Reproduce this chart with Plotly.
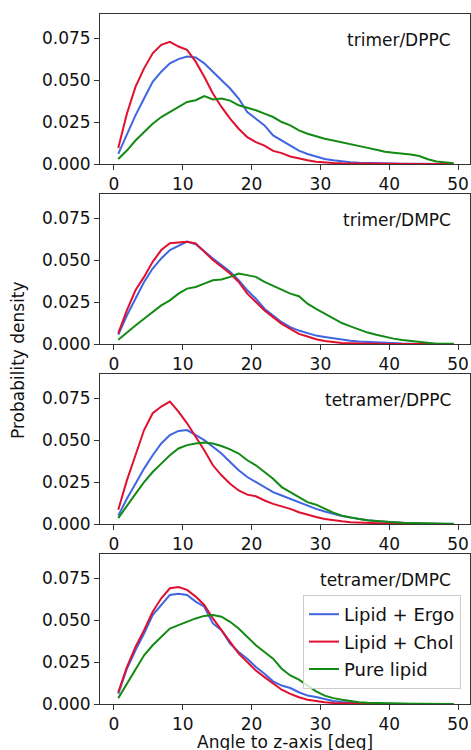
import plotly.graph_objects as go
from plotly.subplots import make_subplots

# Bin centres (deg)
angle = [0.625 + 1.25 * k for k in range(40)]

panel_labels = ["trimer/DPPC", "trimer/DMPC", "tetramer/DPPC", "tetramer/DMPC"]
series_names = ["Lipid + Ergo", "Lipid + Chol", "Pure lipid"]

# trimer/DPPC
trimer_dppc_ergo = [0.006, 0.018, 0.029, 0.039, 0.049, 0.055, 0.060, 0.0625, 0.064, 0.0635,
                    0.060, 0.055, 0.050, 0.045, 0.039, 0.031, 0.027, 0.023, 0.017, 0.014,
                    0.011, 0.008, 0.006, 0.0045, 0.003, 0.0022, 0.0015, 0.001, 0.0007, 0.0005,
                    0.0003, 0.0002, 0.0002, 0.0001, 0.0001, 0.0001, 0.0, 0.0, 0.0, 0.0]
trimer_dppc_chol = [0.0095, 0.030, 0.046, 0.057, 0.066, 0.071, 0.0728, 0.070, 0.068, 0.061,
                    0.052, 0.042, 0.034, 0.027, 0.021, 0.016, 0.013, 0.011, 0.0078, 0.0065,
                    0.0045, 0.0032, 0.0022, 0.0014, 0.0009, 0.0006, 0.0004, 0.0003, 0.0002, 0.0001,
                    0.0001, 0.0, 0.0, 0.0, 0.0, 0.0, 0.0, 0.0, 0.0, 0.0]
trimer_dppc_pure = [0.003, 0.008, 0.014, 0.019, 0.024, 0.028, 0.031, 0.034, 0.037, 0.038,
                    0.0405, 0.0385, 0.039, 0.0378, 0.035, 0.0335, 0.032, 0.030, 0.028, 0.025,
                    0.023, 0.020, 0.018, 0.0165, 0.015, 0.014, 0.0128, 0.012, 0.0106, 0.0096,
                    0.0085, 0.0073, 0.0067, 0.0063, 0.0056, 0.0048, 0.0028, 0.0015, 0.0009, 0.0005]

# trimer/DMPC
trimer_dmpc_ergo = [0.0055, 0.017, 0.027, 0.037, 0.045, 0.051, 0.056, 0.0585, 0.061, 0.0595,
                    0.055, 0.051, 0.047, 0.043, 0.038, 0.032, 0.027, 0.021, 0.017, 0.013,
                    0.010, 0.008, 0.0065, 0.005, 0.0042, 0.0034, 0.0025, 0.0019, 0.0015, 0.0012,
                    0.0008, 0.0006, 0.0005, 0.0003, 0.0002, 0.0001, 0.0001, 0.0001, 0.0, 0.0]
trimer_dmpc_chol = [0.0065, 0.020, 0.032, 0.040, 0.049, 0.056, 0.060, 0.0605, 0.061, 0.060,
                    0.055, 0.050, 0.046, 0.042, 0.037, 0.030, 0.025, 0.020, 0.016, 0.012,
                    0.009, 0.006, 0.0045, 0.0028, 0.0018, 0.001, 0.0006, 0.0004, 0.0002, 0.0001,
                    0.0001, 0.0, 0.0, 0.0, 0.0, 0.0, 0.0, 0.0, 0.0, 0.0]
trimer_dmpc_pure = [0.0025, 0.007, 0.011, 0.015, 0.019, 0.023, 0.026, 0.030, 0.033, 0.034,
                    0.036, 0.038, 0.0385, 0.040, 0.042, 0.041, 0.040, 0.037, 0.0345, 0.0325,
                    0.030, 0.0285, 0.024, 0.021, 0.018, 0.015, 0.0125, 0.0105, 0.0085, 0.0068,
                    0.0055, 0.0042, 0.0032, 0.0024, 0.0018, 0.0012, 0.0005, 0.0002, 0.0001, 0.0001]

# tetramer/DPPC
tetramer_dppc_ergo = [0.005, 0.015, 0.024, 0.033, 0.041, 0.048, 0.053, 0.0555, 0.056, 0.053,
                      0.050, 0.046, 0.042, 0.037, 0.032, 0.028, 0.025, 0.022, 0.019, 0.017,
                      0.015, 0.013, 0.011, 0.009, 0.0075, 0.006, 0.0048, 0.0038, 0.0028, 0.0022,
                      0.0016, 0.0012, 0.0008, 0.0006, 0.0004, 0.0003, 0.0002, 0.0001, 0.0001, 0.0]
tetramer_dppc_chol = [0.0085, 0.026, 0.041, 0.056, 0.066, 0.070, 0.073, 0.067, 0.060, 0.052,
                      0.044, 0.035, 0.029, 0.024, 0.020, 0.0175, 0.0165, 0.014, 0.012, 0.0105,
                      0.009, 0.007, 0.0055, 0.0042, 0.003, 0.0022, 0.0016, 0.0011, 0.0008, 0.0005,
                      0.0004, 0.0003, 0.0002, 0.0001, 0.0001, 0.0, 0.0, 0.0, 0.0, 0.0]
tetramer_dppc_pure = [0.0035, 0.011, 0.018, 0.025, 0.031, 0.036, 0.041, 0.045, 0.047, 0.048,
                      0.0485, 0.048, 0.0465, 0.0445, 0.042, 0.038, 0.035, 0.031, 0.027, 0.022,
                      0.019, 0.016, 0.013, 0.0115, 0.009, 0.0068, 0.005, 0.0038, 0.003, 0.0023,
                      0.0018, 0.0014, 0.0011, 0.0008, 0.0006, 0.0004, 0.0003, 0.0002, 0.0001, 0.0001]

# tetramer/DMPC
tetramer_dmpc_ergo = [0.006, 0.021, 0.032, 0.042, 0.053, 0.059, 0.065, 0.0657, 0.065, 0.061,
                      0.058, 0.048, 0.044, 0.036, 0.031, 0.027, 0.022, 0.018, 0.0135, 0.011,
                      0.0095, 0.007, 0.005, 0.0042, 0.003, 0.0018, 0.0012, 0.0008, 0.0005, 0.0003,
                      0.0002, 0.0001, 0.0001, 0.0, 0.0, 0.0, 0.0, 0.0, 0.0, 0.0]
tetramer_dmpc_chol = [0.007, 0.022, 0.034, 0.044, 0.055, 0.063, 0.069, 0.0697, 0.068, 0.064,
                      0.059, 0.051, 0.044, 0.037, 0.030, 0.025, 0.020, 0.016, 0.012, 0.0085,
                      0.006, 0.004, 0.0025, 0.0017, 0.001, 0.0006, 0.0004, 0.0002, 0.0001, 0.0001,
                      0.0, 0.0, 0.0, 0.0, 0.0, 0.0, 0.0, 0.0, 0.0, 0.0]
tetramer_dmpc_pure = [0.0035, 0.012, 0.020, 0.029, 0.035, 0.040, 0.045, 0.047, 0.049, 0.051,
                      0.0525, 0.053, 0.052, 0.049, 0.045, 0.040, 0.035, 0.031, 0.027, 0.021,
                      0.017, 0.0145, 0.011, 0.0075, 0.005, 0.0035, 0.0025, 0.0016, 0.0011, 0.0008,
                      0.0006, 0.0004, 0.0003, 0.0002, 0.0001, 0.0001, 0.0001, 0.0, 0.0, 0.0]

panels = [
    [trimer_dppc_ergo, trimer_dppc_chol, trimer_dppc_pure],
    [trimer_dmpc_ergo, trimer_dmpc_chol, trimer_dmpc_pure],
    [tetramer_dppc_ergo, tetramer_dppc_chol, tetramer_dppc_pure],
    [tetramer_dmpc_ergo, tetramer_dmpc_chol, tetramer_dmpc_pure],
]

x_ticks = [0, 10, 20, 30, 40, 50]
y_ticks = [0.0, 0.025, 0.050, 0.075]

colors = ["#3f66e0", "#e0102f", "#138a13"]
FONT = "DejaVu Sans"
FS = 17

W, H = 471, 750
MT, MB, ML, MR = 14, 45, 100, 1
plot_h = H - MT - MB

fig = make_subplots(rows=4, cols=1)

for i, series in enumerate(panels):
    for j, vals in enumerate(series):
        fig.add_trace(go.Scatter(
            x=angle, y=vals, mode="lines", name=series_names[j],
            line=dict(color=colors[j], width=2),
            legendgroup=f"g{j}",
            showlegend=(i == 3),
        ), row=i + 1, col=1)

axis_common = dict(
    showline=True, mirror=True, linecolor="#333", linewidth=1,
    ticks="outside", ticklen=5, tickwidth=1, tickcolor="#333",
    showgrid=False, zeroline=False,
    tickfont=dict(family=FONT, size=FS, color="#111"),
)

for i in range(4):
    top_px = MT + 180 * i
    bot_px = min(top_px + 150, H - MB)
    dom = [(H - MB - bot_px) / plot_h, (H - MB - top_px) / plot_h]
    yname = "yaxis" if i == 0 else f"yaxis{i + 1}"
    xname = "xaxis" if i == 0 else f"xaxis{i + 1}"
    fig.layout[yname].update(domain=dom, range=[0, 0.0894], tickvals=y_ticks,
                             ticktext=[f"{v:.3f}" for v in y_ticks], **axis_common)
    fig.layout[xname].update(range=[-2.03, 51.74], tickvals=x_ticks, **axis_common)
    fig.add_annotation(
        text=panel_labels[i], xref=f"x{'' if i == 0 else i + 1} domain",
        yref=f"y{'' if i == 0 else i + 1} domain", x=0.955, y=(150 - 26) / 150,
        xanchor="right", yanchor="middle", showarrow=False,
        font=dict(family=FONT, size=FS, color="#111"),
    )

fig.add_annotation(text="Probability density", xref="paper", yref="paper",
                   x=(18 - ML) / (W - ML - MR), y=(H - MB - 360) / plot_h,
                   textangle=-90, showarrow=False, xanchor="center", yanchor="middle",
                   font=dict(family=FONT, size=FS, color="#111"))
fig.add_annotation(text="Angle to z-axis [deg]", xref="paper", yref="paper",
                   x=(285 - ML) / (W - ML - MR), y=-(742 - (H - MB)) / plot_h,
                   showarrow=False, xanchor="center", yanchor="middle",
                   font=dict(family=FONT, size=FS, color="#111"))

fig.update_layout(
    width=W, height=H,
    margin=dict(l=ML, r=MR, t=MT, b=MB),
    plot_bgcolor="white", paper_bgcolor="white",
    font=dict(family=FONT, size=FS, color="#111"),
    legend=dict(
        x=(461 - ML) / (W - ML - MR), y=(H - MB - 689) / plot_h,
        xanchor="right", yanchor="bottom",
        bgcolor="rgba(255,255,255,0.8)", bordercolor="#cccccc", borderwidth=1,
        font=dict(family=FONT, size=18, color="#111"),
        itemwidth=30, tracegroupgap=1,
    ),
)

fig.write_html(
    "out.html",
    config={"displayModeBar": False},
    post_script="document.body.style.margin='0';document.body.style.overflow='hidden';",
)
